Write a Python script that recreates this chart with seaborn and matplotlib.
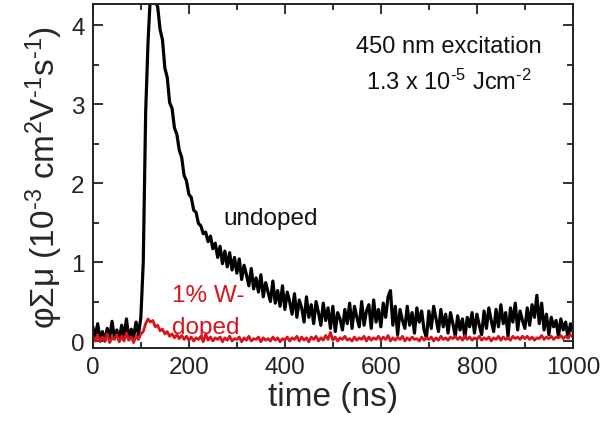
import numpy as np
import pandas as pd
import matplotlib
matplotlib.use("Agg")
import matplotlib.pyplot as plt
import seaborn as sns

sns.set_theme(style="ticks")
plt.rcParams["font.family"] = ["Liberation Sans", "DejaVu Sans"]
plt.rcParams["mathtext.fontset"] = "custom"
plt.rcParams["mathtext.rm"] = "Liberation Sans"
plt.rcParams["mathtext.it"] = "Liberation Sans:italic"
plt.rcParams["mathtext.bf"] = "Liberation Sans:bold"

# time grid (ns)
time_ns = np.arange(0, 1005, 5)

undoped = [
    0.18, 0.05, 0.22, 0.02, 0.12, 0.00, 0.16, 0.04, 0.25, 0.03, 0.14, 0.01, 0.20, 0.06, 0.28, 0.02, 0.15, 0.05, 0.24, 0.08,
    0.30, 1.00, 2.90, 3.80, 4.40, 4.45, 4.30, 4.24, 3.95, 3.82, 3.46, 3.34, 3.02, 2.95, 2.70, 2.62, 2.42, 2.33, 2.10, 2.03,
    1.86, 1.82, 1.66, 1.63, 1.49, 1.46, 1.36, 1.38, 1.26, 1.33, 1.17, 1.24, 1.06, 1.20, 0.98, 1.14, 0.94, 1.12, 0.90, 1.06,
    0.86, 1.04, 0.78, 0.96, 0.84, 0.70, 0.92, 0.66, 0.80, 0.62, 0.84, 0.56, 0.74, 0.62, 0.50, 0.76, 0.48, 0.64, 0.44, 0.70,
    0.40, 0.62, 0.50, 0.34, 0.60, 0.30, 0.52, 0.42, 0.24, 0.56, 0.30, 0.46, 0.22, 0.50, 0.36, 0.20, 0.48, 0.26, 0.42, 0.16,
    0.44, 0.12, 0.36, 0.28, 0.14, 0.40, 0.22, 0.48, 0.16, 0.44, 0.30, 0.18, 0.50, 0.20, 0.38, 0.46, 0.16, 0.52, 0.24, 0.40,
    0.18, 0.48, 0.30, 0.56, 0.64, 0.20, 0.44, 0.08, 0.40, 0.26, 0.16, 0.44, 0.20, 0.36, 0.10, 0.42, 0.24, 0.38, 0.14, 0.04,
    0.38, 0.16, 0.44, 0.28, 0.12, 0.40, 0.18, 0.34, 0.10, 0.36, 0.22, 0.06, 0.32, 0.14, 0.28, 0.04, 0.30, 0.18, 0.36, 0.10,
    0.34, 0.20, 0.08, 0.38, 0.16, 0.42, 0.26, 0.12, 0.40, 0.18, 0.46, 0.22, 0.36, 0.06, 0.42, 0.24, 0.48, 0.14, 0.38, 0.26,
    0.16, 0.42, 0.20, 0.46, 0.30, 0.58, 0.22, 0.48, 0.14, 0.34, 0.08, 0.30, 0.18, 0.26, 0.06, 0.28, 0.14, 0.24, 0.04, 0.22,
    0.12,
]

w_doped = [
    0.06, 0.00, 0.08, -0.01, 0.05, 0.01, 0.09, -0.02, 0.04, 0.02, 0.08, -0.01, 0.06, 0.00, 0.10, 0.01, 0.05, -0.02, 0.07, 0.02,
    0.09, 0.12, 0.22, 0.28, 0.24, 0.26, 0.18, 0.20, 0.13, 0.15, 0.09, 0.12, 0.06, 0.09, 0.04, 0.08, 0.03, 0.07, 0.02, 0.06,
    0.01, 0.05, 0.00, 0.04, 0.02, 0.06, -0.01, 0.09, 0.01, 0.05, 0.00, 0.04, 0.02, 0.05, -0.01, 0.04, 0.01, 0.06, 0.00, 0.03,
    0.02, 0.05, -0.01, 0.04, 0.01, 0.06, 0.00, 0.03, 0.02, 0.05, -0.01, 0.04, 0.01, 0.03, 0.00, 0.05, 0.01, 0.04, -0.01, 0.03,
    0.01, 0.05, 0.00, 0.04, 0.02, 0.06, 0.00, 0.05, 0.01, 0.04, -0.01, 0.05, 0.02, 0.06, 0.00, 0.04, 0.01, 0.07, 0.02, 0.11,
    0.01, 0.05, 0.00, 0.04, 0.02, 0.06, 0.01, 0.03, 0.00, 0.05, 0.01, 0.04, 0.02, 0.06, 0.00, 0.05, 0.01, 0.04, 0.02, 0.06,
    0.01, 0.05, 0.02, 0.07, 0.00, 0.04, 0.01, 0.05, 0.02, 0.06, 0.00, 0.04, 0.01, 0.05, 0.02, 0.03, 0.00, 0.05, 0.01, 0.04,
    0.02, 0.05, 0.00, 0.04, 0.01, 0.06, 0.02, 0.04, 0.01, 0.05, 0.03, 0.06, 0.02, 0.05, 0.01, 0.07, 0.02, 0.05, 0.01, 0.04,
    0.02, 0.06, 0.01, 0.04, 0.02, 0.05, 0.00, 0.04, 0.02, 0.06, 0.01, 0.05, 0.02, 0.04, 0.01, 0.06, 0.03, 0.05, 0.02, 0.06,
    0.03, 0.06, 0.02, 0.05, 0.01, 0.04, 0.03, 0.07, 0.02, 0.05, 0.03, 0.06, 0.02, 0.05, 0.04, 0.07, 0.03, 0.06, 0.04, 0.08,
    0.05,
]

x_ticks = [0, 200, 400, 600, 800, 1000]
y_ticks = [0, 1, 2, 3, 4]

df_black = pd.DataFrame({"time": time_ns, "signal": undoped})
df_red = pd.DataFrame({"time": time_ns, "signal": w_doped})

fig = plt.figure(figsize=(6.03, 4.31), dpi=100)
ax = fig.add_axes([0.154, 0.190, 0.796, 0.798])

sns.lineplot(data=df_black, x="time", y="signal", ax=ax, color="black",
             linewidth=2.3, estimator=None, sort=False)
sns.lineplot(data=df_red, x="time", y="signal", ax=ax, color="#d8141c",
             linewidth=2.0, estimator=None, sort=False)

ax.set_xlim(0, 1000)
ax.set_ylim(-0.09, 4.27)
ax.set_xticks(x_ticks)
ax.set_xticklabels([str(v) for v in x_ticks])
ax.set_yticks(y_ticks)
ax.set_yticklabels([str(v) for v in y_ticks])
ax.xaxis.set_minor_locator(matplotlib.ticker.MultipleLocator(100))
ax.yaxis.set_minor_locator(matplotlib.ticker.MultipleLocator(0.5))
ax.tick_params(which="both", direction="in", top=True, right=True,
               colors="#222222", width=1.3)
ax.tick_params(which="major", length=7, labelsize=17.5, pad=6)
ax.tick_params(which="minor", length=4)
for s in ax.spines.values():
    s.set_color("#222222")
    s.set_linewidth(1.4)

hy = "\u2010"
ax.set_xlabel("time (ns)", fontsize=24, labelpad=2)
ax.set_ylabel("φΣμ (10$^{" + hy + "3}$ cm$^{2}$V$^{" + hy + "1}$s$^{" + hy + "1}$)",
              fontsize=24, labelpad=4)

ax.text(742, 3.66, "450 nm excitation", fontsize=17, ha="center", va="baseline", color="#111111")
ax.text(742, 3.19, "1.3 x 10$^{" + hy + "5}$ Jcm$^{" + hy + "2}$", fontsize=17,
        ha="center", va="baseline", color="#111111")
ax.text(271, 1.48, "undoped", fontsize=17.5, ha="left", va="baseline", color="#111111")
ax.text(165, 0.51, "1% W-", fontsize=17.5, ha="left", va="baseline", color="#d8141c")
ax.text(165, 0.10, "doped", fontsize=17.5, ha="left", va="baseline", color="#d8141c")

fig.savefig("out.png", dpi=100)
